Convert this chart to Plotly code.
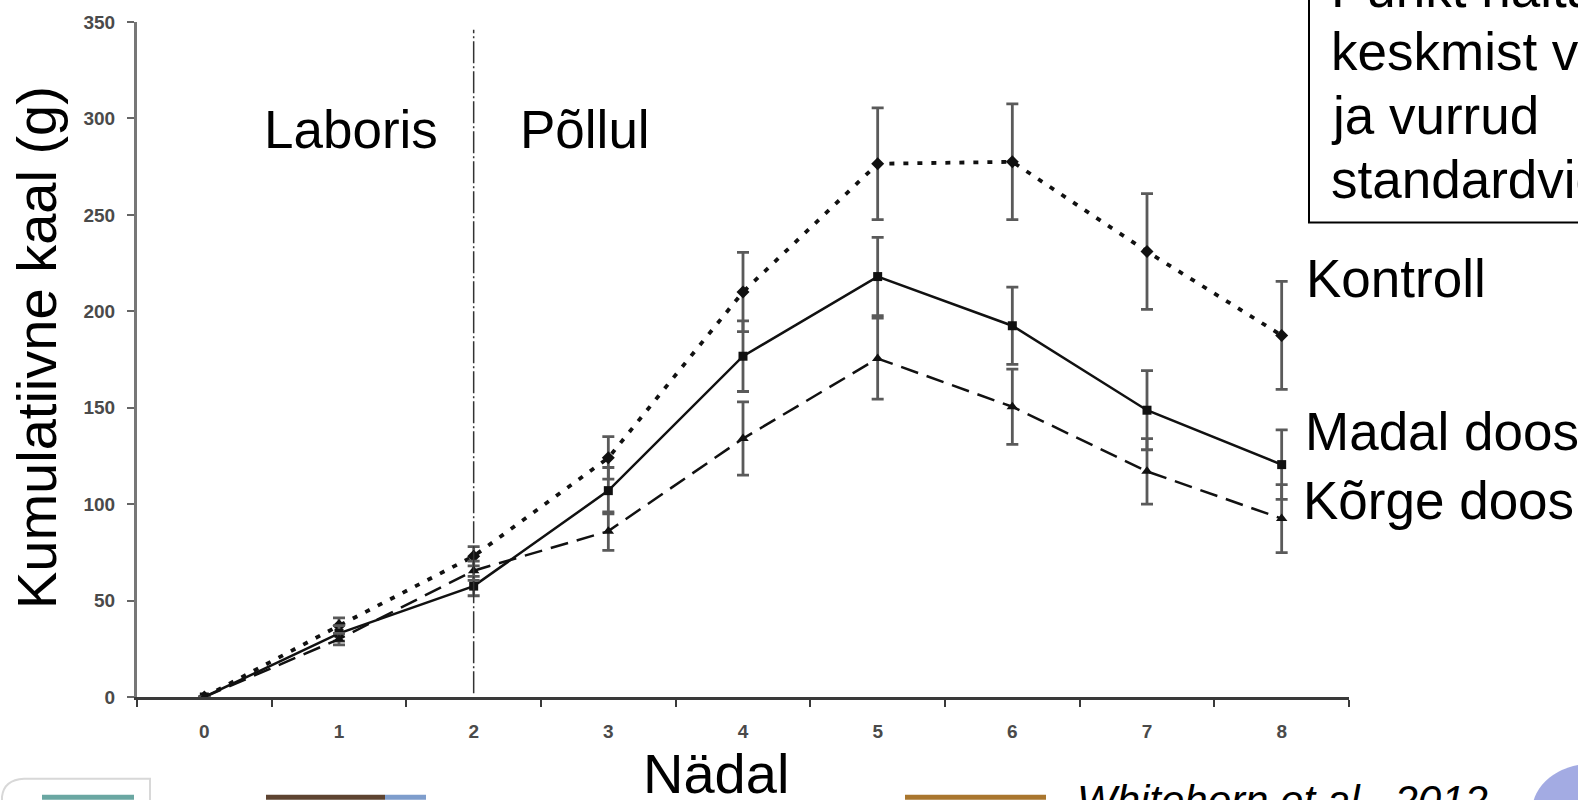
import plotly.graph_objects as go

# Weekly cumulative weight (g) per treatment, with standard errors
weeks = [0, 1, 2, 3, 4, 5, 6, 7, 8]
week_labels = ["0", "1", "2", "3", "4", "5", "6", "7", "8"]

kontroll = [0, 37, 73, 124, 210, 276.5, 277.5, 231, 187.5]
kontroll_err = [0, 4, 5, 11, 20.5, 29, 30, 30, 28]

madal = [0, 33, 57.5, 107, 176.7, 218, 192.5, 148.7, 120.5]
madal_err = [0, 4, 5, 12, 18.3, 20.3, 20, 20.5, 18]

korge = [0, 30, 65.5, 86, 134, 175.5, 150.5, 117, 92.5]
korge_err = [0, 3, 5, 10, 19, 21, 19.5, 17, 17.6]

y_ticks = [0, 50, 100, 150, 200, 250, 300, 350]
phase_split_week = 2

W, H = 1578, 800
L, R, T, B = 137, 1349, 20, 697
FONT = "Liberation Sans, Arial, sans-serif"


def px(x):
    return (x - L) / (R - L)


def py(y):
    return (B - y) / (B - T)


fig = go.Figure()

err_style = dict(type="data", visible=True, color="#5a5a5a", thickness=2.8, width=6)

fig.add_trace(go.Scatter(
    x=weeks, y=kontroll, mode="lines+markers", name="Kontroll",
    line=dict(color="#111", width=3.8, dash="5px,9px"),
    marker=dict(symbol="diamond", size=10, color="#111"),
    error_y=dict(array=kontroll_err, **err_style),
))
fig.add_trace(go.Scatter(
    x=weeks, y=madal, mode="lines+markers", name="Madal doos",
    line=dict(color="#111", width=2.5),
    marker=dict(symbol="square", size=9, color="#111"),
    error_y=dict(array=madal_err, **err_style),
))
fig.add_trace(go.Scatter(
    x=weeks, y=korge, mode="lines+markers", name="Kõrge doos",
    line=dict(color="#111", width=2.5, dash="18px,9px"),
    marker=dict(symbol="triangle-up", size=10, color="#111"),
    error_y=dict(array=korge_err, **err_style),
))

shapes = [
    # lab / field divider
    dict(type="line", xref="x", yref="y", x0=phase_split_week, x1=phase_split_week,
         y0=2, y1=346, line=dict(color="#333", width=1.5, dash="22px,3px,2px,3px")),
    # note box
    dict(type="rect", xref="paper", yref="paper", x0=px(1309), x1=px(1700),
         y0=py(221), y1=py(-60), line=dict(color="#000", width=2), fillcolor="rgba(0,0,0,0)"),
    # photo strips along the bottom edge
    dict(type="path", xref="paper", yref="paper",
         path=f"M {px(2)},{py(805)} L {px(2)},{py(797)} Q {px(4)},{py(780)} {px(24)},{py(779)} "
              f"L {px(150)},{py(779)} L {px(150)},{py(805)} Z",
         line=dict(color="#d8d8d8", width=2), fillcolor="white"),
    dict(type="rect", xref="paper", yref="paper", x0=px(42), x1=px(134), y0=py(800), y1=py(795),
         line=dict(width=0), fillcolor="#6aa7a2"),
    dict(type="rect", xref="paper", yref="paper", x0=px(266), x1=px(385), y0=py(800), y1=py(795),
         line=dict(width=0), fillcolor="#5e4431"),
    dict(type="rect", xref="paper", yref="paper", x0=px(385), x1=px(426), y0=py(800), y1=py(795),
         line=dict(width=0), fillcolor="#7e9dcc"),
    dict(type="rect", xref="paper", yref="paper", x0=px(905), x1=px(1046), y0=py(800), y1=py(795),
         line=dict(width=0), fillcolor="#a9762e"),
    dict(type="circle", xref="paper", yref="paper", x0=px(1532), x1=px(1650), y0=py(860), y1=py(764),
         line=dict(width=0), fillcolor="rgba(140,150,220,0.8)"),
]

big = dict(family=FONT, size=53, color="#000")


def label(text, x, y, xanchor="left", **kw):
    return dict(text=text, x=px(x), y=py(y), xref="paper", yref="paper",
                xanchor=xanchor, yanchor="middle", showarrow=False, font=big, **kw)


annotations = [
    label("Laboris", 262, 128),
    label("Põllul", 518, 128),
    label("Kontroll", 1304, 277),
    label("Madal doos", 1303, 431),
    label("Kõrge doos", 1301, 500),
    label("Punkt näitab", 1329, -14),
    label("keskmist väärtust", 1329, 50),
    label("ja vurrud", 1329, 114),
    label("standardviga", 1329, 178),
    dict(text="Kumulatiivne kaal (g)", x=px(36), y=py(347), xref="paper", yref="paper",
         xanchor="center", yanchor="middle", textangle=-90, showarrow=False,
         font=dict(family=FONT, size=56, color="#000")),
    dict(text="Nädal", x=px(716), y=py(774), xref="paper", yref="paper",
         xanchor="center", yanchor="middle", showarrow=False,
         font=dict(family=FONT, size=56, color="#000")),
    dict(text="<i>Whitehorn et al., 2012</i>", x=px(1075), y=py(801), xref="paper", yref="paper",
         xanchor="left", yanchor="middle", showarrow=False,
         font=dict(family=FONT, size=42, color="#000")),
]

tick_font = dict(family=FONT, size=19, color="#4a4a4a", weight="bold")

fig.update_layout(
    width=W, height=H,
    margin=dict(l=L, r=W - R, t=T, b=H - B),
    paper_bgcolor="white", plot_bgcolor="white",
    showlegend=False,
    shapes=shapes, annotations=annotations,
    xaxis=dict(
        range=[-0.5, 8.5], tickmode="array", tickvals=weeks, ticktext=week_labels,
        ticks="", showline=True, linecolor="#3a3a3a", linewidth=2.5,
        showgrid=False, zeroline=False, tickfont=tick_font, ticklabelstandoff=15,
        minor=dict(tickmode="array", tickvals=[w + 0.5 for w in [-1] + weeks],
                   ticks="outside", ticklen=7, tickwidth=1.5, tickcolor="#3a3a3a"),
    ),
    yaxis=dict(
        range=[0, 350], tickmode="array", tickvals=y_ticks,
        ticks="outside", ticklen=7, tickwidth=1.5, tickcolor="#666",
        showline=True, linecolor="#777", linewidth=3,
        showgrid=False, zeroline=False, tickfont=tick_font, ticklabelstandoff=8,
    ),
)

fig.write_html("out.html")
